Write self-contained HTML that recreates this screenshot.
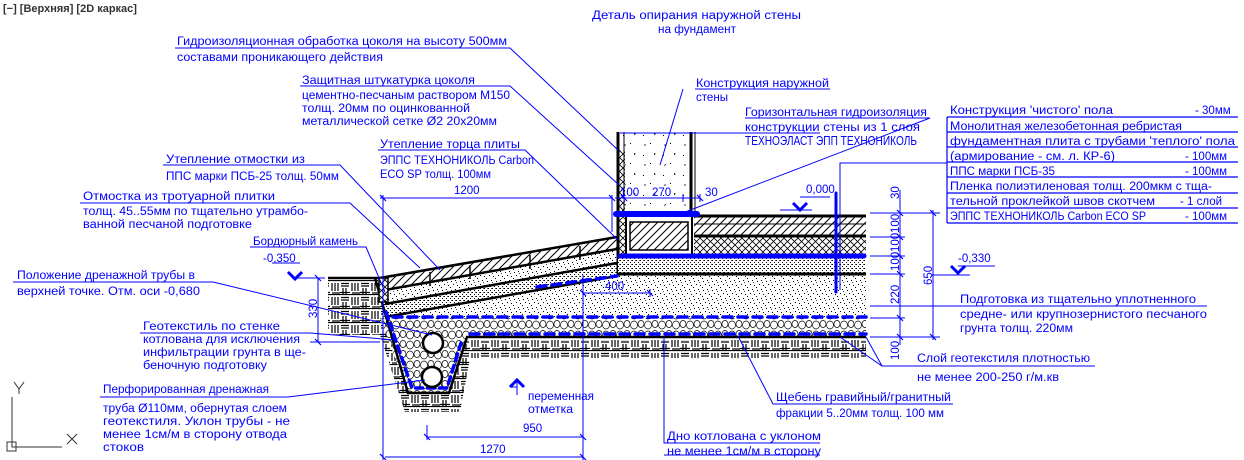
<!DOCTYPE html>
<html><head><meta charset="utf-8"><style>
html,body{margin:0;padding:0;background:#fff;}
svg{display:block;}
text{font-family:"Liberation Sans",sans-serif;font-size:11.5px;fill:#0000ff;}
</style></head><body>
<svg width="1244" height="460" viewBox="0 0 1244 460" xmlns="http://www.w3.org/2000/svg">
<defs>
<pattern id="sand" width="9" height="9" patternUnits="userSpaceOnUse">
<rect width="9" height="9" fill="#fff"/>
<rect x="1" y="2" width="1" height="1" fill="#000"/><rect x="5" y="1" width="1" height="1" fill="#000"/>
<rect x="3" y="5" width="1" height="1" fill="#000"/><rect x="7" y="6" width="1" height="1" fill="#000"/>
<rect x="0" y="8" width="1" height="1" fill="#000"/><rect x="6" y="3" width="1" height="1" fill="#444"/>
</pattern>
<pattern id="dense" width="4" height="4" patternUnits="userSpaceOnUse">
<rect width="4" height="4" fill="#fff"/><rect x="0" y="0" width="1" height="1" fill="#000"/><rect x="2" y="2" width="1" height="1" fill="#000"/><rect x="3" y="0" width="1" height="1" fill="#555"/>
</pattern>
<pattern id="diag" width="8" height="8" patternUnits="userSpaceOnUse">
<rect width="8" height="8" fill="#fff"/><path d="M0 8 L8 0 M-2 2 L2 -2 M6 10 L10 6" stroke="#000" stroke-width="1"/>
</pattern>
<pattern id="cross" width="7" height="7" patternUnits="userSpaceOnUse">
<rect width="7" height="7" fill="#fff"/><path d="M0 7 L7 0 M0 0 L7 7" stroke="#000" stroke-width="0.8"/>
</pattern>
<pattern id="gravel" width="14" height="10" patternUnits="userSpaceOnUse">
<rect width="14" height="10" fill="#fff"/>
<ellipse cx="4" cy="5" rx="3.5" ry="4" fill="none" stroke="#000" stroke-width="0.7"/>
<ellipse cx="11" cy="4" rx="3" ry="3.5" fill="none" stroke="#000" stroke-width="0.7"/>
</pattern>
<pattern id="soil" width="20" height="14" patternUnits="userSpaceOnUse">
<rect width="20" height="14" fill="#fff"/>
<path d="M0 0.5 H20 M1 3.5 H9 M1 6 H9 M12 3 V11 M15 3 V11 M18 3 V11 M0 12.5 H10 M3 8 V14 M6 8 V14 M12 13 H20" stroke="#000" stroke-width="1.2"/>
</pattern>
<pattern id="concrete" width="20" height="20" patternUnits="userSpaceOnUse">
<rect width="20" height="20" fill="#fff"/><path d="M4 5 l2 -1 l-1 2z M14 13 l2 1 l-2 1z" fill="#000"/><rect x="10" y="3" width="1" height="1" fill="#000"/><rect x="3" y="15" width="1" height="1" fill="#000"/>
</pattern>
</defs>

<text x="3" y="12" style="fill:#333;font-size:11px;font-weight:bold">[−] [Верхняя] [2D каркас]</text>

<polygon points="328,280 378,280 410,395 448,395 466,340 866,340 866,358 470,358 460,412 405,412 380,335 328,335" fill="url(#soil)"/>
<polygon points="383,318 617,275 866,275 866,318" fill="url(#sand)"/>
<polygon points="380,318 866,318 866,337 467,337 448,392 408,392" fill="url(#gravel)"/>
<polygon points="378,277 617,237 617,248 383,290" fill="url(#diag)"/>
<polygon points="383,290 617,248 617,262 383,304" fill="url(#sand)"/>
<polygon points="383,304 617,262 617,274 383,317" fill="url(#dense)"/>
<g stroke="#000" stroke-width="2.5" fill="none">
<path d="M328,278 H380 L617,237"/><path d="M385,290 L617,249"/><path d="M385,304 L617,263"/><path d="M385,317 L617,276"/>
<path d="M375,278 L408,393 H449 L467,337 H866"/>
</g>
<g stroke="#000" stroke-width="1.5"><path d="M430,272 V286 M470,265 V279 M530,255 V269 M580,246 V260"/></g>
<rect x="379" y="278" width="9" height="24" fill="url(#cross)" stroke="#000" stroke-width="1.5"/>

<rect x="622" y="132" width="68" height="82" fill="url(#concrete)"/>
<rect x="617" y="150" width="8" height="120" fill="url(#cross)"/>
<rect x="630" y="222" width="58" height="28" fill="url(#diag)" stroke="#000" stroke-width="1.5"/>
<g stroke="#000" fill="none">
<path d="M618,132 V276" stroke-width="3"/><path d="M624,132 V214" stroke-width="1"/>
<path d="M691,132 V214" stroke-width="3"/><path d="M695,132 V214" stroke-width="1"/>
<path d="M626,214 V256" stroke-width="2"/><path d="M692,214 V256" stroke-width="2"/>
</g>
<rect x="694" y="216" width="172" height="20" fill="url(#diag)"/>
<rect x="694" y="237" width="172" height="19" fill="url(#cross)"/>
<rect x="618" y="256" width="248" height="18" fill="url(#dense)"/>
<g stroke="#000" fill="none">
<path d="M694,216 H866" stroke-width="3"/><path d="M694,224 H866" stroke-width="1"/>
<path d="M694,236 H866" stroke-width="3"/><path d="M618,274 H866" stroke-width="3"/>
</g>
<g stroke="#0000ff" fill="none" stroke-linecap="round">
<path d="M616,214 H697" stroke-width="6"/>
<path d="M620,256 H866" stroke-width="5" stroke-dasharray="4,2"/>
<path d="M386,312 L412,388 H447 L461,343" stroke-width="3.5" stroke-dasharray="7,5"/>
<path d="M393,317 H866" stroke-width="3.5" stroke-dasharray="9,6"/>
<path d="M470,334 H866" stroke-width="3.5" stroke-dasharray="9,6"/>
<path d="M537,287 L617,276" stroke-width="3.5" stroke-dasharray="9,6"/>
<path d="M836,193 V292" stroke-width="3"/>
</g>
<circle cx="433" cy="343" r="10" fill="#fff" stroke="#000" stroke-width="2.5"/>
<circle cx="432" cy="377" r="10" fill="#fff" stroke="#000" stroke-width="2.5"/>

<g stroke="#0000ff" stroke-width="1" fill="none">
<path d="M383,195 V460 M380,198 H612 M612,195 V232 M615,198 H700 M624,194 V202 M700,194 V202 M683,194 V202"/>
<path d="M583,275 V460 M583,293 H650 M650,289 V297"/>
<path d="M427,437 H583 M427,425 V440 M385,457 H583"/>
<path d="M318,278 V342 M295,278 H325 M310,342 H380"/>
<path d="M900,190 V345 M870,213 H905 M870,237 H905 M870,256 H905 M870,274 H905 M870,318 H905 M870,337 H905"/>
<path d="M933,210 V340 M905,213 H940 M905,337 H940"/>
<path d="M932,275 H970 M958,266 H995"/>
<path d="M780,210 H812 M800,197 H830"/>
</g>
<g stroke="#0000ff" stroke-width="1.2">
<path d="M380,195 l6,6 M609,195 l6,6 M621,195 l6,6 M697,195 l6,6 M580,290 l6,6 M647,290 l6,6 M424,434 l6,6 M580,434 l6,6 M380,454 l6,6 M580,454 l6,6 M315,275 l6,6 M315,339 l6,6 M897,210 l6,6 M897,234 l6,6 M897,253 l6,6 M897,271 l6,6 M897,315 l6,6 M897,334 l6,6 M930,210 l6,6 M930,334 l6,6"/>
</g>
<g fill="none" stroke="#0000ff" stroke-width="3">
<path d="M288,272 l7,7 l7,-7"/><path d="M793,203 l7,7 l7,-7"/><path d="M951,266 l7,7 l7,-7"/><path d="M510,387 l7,-7 l7,7"/>
</g>
<path d="M517,380 V395 M272,263 H300 M510,387 H517" stroke="#0000ff"/>

<text x="454" y="194">1200</text>
<text x="620" y="196">100</text><text x="652" y="196">270</text><text x="705" y="196">30</text>
<text x="605" y="290">400</text>
<text x="523" y="432">950</text>
<text x="480" y="453">1270</text>
<text x="806" y="193">0,000</text>
<text x="958" y="262">-0,330</text>
<text x="263" y="262">-0,350</text>
<g>
<text transform="translate(317,318) rotate(-90)">330</text>
<text transform="translate(899,199) rotate(-90)">30</text>
<text transform="translate(899,233) rotate(-90)">100</text>
<text transform="translate(899,252) rotate(-90)">100</text>
<text transform="translate(899,271) rotate(-90)">100</text>
<text transform="translate(899,304) rotate(-90)">220</text>
<text transform="translate(899,360) rotate(-90)">100</text>
<text transform="translate(932,285) rotate(-90)">650</text>
</g>

<g stroke="#0000ff" stroke-width="1" fill="none">
<path d="M175,48 H510 L618,150"/>
<path d="M300,86 H510 L619,185"/>
<path d="M378,150 H525 L618,240"/>
<path d="M163,165 H340 L440,270"/>
<path d="M80,203 H350 L420,268"/>
<path d="M250,247 H366 L385,292"/>
<path d="M13,282 H213 L432,335"/>
<path d="M140,333 H310 L395,340"/>
<path d="M100,397 H288 L425,380"/>
<path d="M664,337 V443 H820 M664,455 H820"/>
<path d="M738,336 L773,404 H953"/>
<path d="M840,337 L882,366 H1095 M866,337 L882,366"/>
<path d="M870,306 H1207"/>
<path d="M695,89 H830 M683,89 L660,165"/>
<path d="M745,118 H930 L680,214"/>
<path d="M840,290 V163 H947"/>
<path d="M620,133 H820"/>
</g>
<g stroke="#0000ff" stroke-width="1.2" fill="none">
<path d="M947,117 V223 M947,117 H1238 M947,132 H1238 M947,147 H1238 M947,162 H1238 M947,177 H1238 M947,193 H1238 M947,208 H1238 M947,223 H1238"/>
</g>
<text x="950" y="114" textLength="163" lengthAdjust="spacingAndGlyphs">Конструкция 'чистого' пола</text><text x="1195" y="114">- 30мм</text>
<text x="950" y="130" textLength="232" lengthAdjust="spacingAndGlyphs">Монолитная железобетонная ребристая</text>
<text x="950" y="145" textLength="285" lengthAdjust="spacingAndGlyphs">фундаментная плита с трубами 'теплого' пола</text>
<text x="950" y="160" textLength="165" lengthAdjust="spacingAndGlyphs">(армирование - см. л. КР-6)</text><text x="1185" y="160">- 100мм</text>
<text x="950" y="175" textLength="105" lengthAdjust="spacingAndGlyphs">ППС марки ПСБ-35</text><text x="1185" y="175">- 100мм</text>
<text x="950" y="190" textLength="262" lengthAdjust="spacingAndGlyphs">Пленка полиэтиленовая толщ. 200мкм с тща-</text>
<text x="950" y="205" textLength="205" lengthAdjust="spacingAndGlyphs">тельной проклейкой швов скотчем</text><text x="1180" y="205">- 1 слой</text>
<text x="950" y="220" textLength="196" lengthAdjust="spacingAndGlyphs">ЭППС ТЕХНОНИКОЛЬ Carbon ECO SP</text><text x="1185" y="220">- 100мм</text>

<text x="592" y="19" textLength="209" lengthAdjust="spacingAndGlyphs">Деталь опирания наружной стены</text>
<text x="658" y="33" textLength="78" lengthAdjust="spacingAndGlyphs">на фундамент</text>
<text x="177" y="45" textLength="330" lengthAdjust="spacingAndGlyphs">Гидроизоляционная обработка цоколя на высоту 500мм</text>
<text x="177" y="61" textLength="206" lengthAdjust="spacingAndGlyphs">составами проникающего действия</text>
<text x="302" y="84" textLength="173" lengthAdjust="spacingAndGlyphs">Защитная штукатурка цоколя</text>
<text x="302" y="99" textLength="208" lengthAdjust="spacingAndGlyphs">цементно-песчаным раствором М150</text>
<text x="302" y="112" textLength="168" lengthAdjust="spacingAndGlyphs">толщ. 20мм по оцинкованной</text>
<text x="302" y="125" textLength="195" lengthAdjust="spacingAndGlyphs">металлической сетке Ø2 20х20мм</text>
<text x="380" y="148" textLength="140" lengthAdjust="spacingAndGlyphs">Утепление торца плиты</text>
<text x="380" y="164" textLength="154" lengthAdjust="spacingAndGlyphs">ЭППС ТЕХНОНИКОЛЬ Carbon</text>
<text x="380" y="178" textLength="111" lengthAdjust="spacingAndGlyphs">ECO SP толщ. 100мм</text>
<text x="166" y="163" textLength="139" lengthAdjust="spacingAndGlyphs">Утепление отмостки из</text>
<text x="166" y="180" textLength="173" lengthAdjust="spacingAndGlyphs">ППС марки ПСБ-25 толщ. 50мм</text>
<text x="83" y="200" textLength="192" lengthAdjust="spacingAndGlyphs">Отмостка из тротуарной плитки</text>
<text x="83" y="215" textLength="225" lengthAdjust="spacingAndGlyphs">толщ. 45..55мм по тщательно утрамбо-</text>
<text x="83" y="228" textLength="169" lengthAdjust="spacingAndGlyphs">ванной песчаной подготовке</text>
<text x="253" y="245" textLength="105" lengthAdjust="spacingAndGlyphs">Бордюрный камень</text>
<text x="17" y="279" textLength="178" lengthAdjust="spacingAndGlyphs">Положение дренажной трубы в</text>
<text x="17" y="295" textLength="183" lengthAdjust="spacingAndGlyphs">верхней точке. Отм. оси -0,680</text>
<text x="143" y="330" textLength="137" lengthAdjust="spacingAndGlyphs">Геотекстиль по стенке</text>
<text x="143" y="343" textLength="157" lengthAdjust="spacingAndGlyphs">котлована для исключения</text>
<text x="143" y="356" textLength="163" lengthAdjust="spacingAndGlyphs">инфильтрации грунта в ще-</text>
<text x="143" y="369" textLength="124" lengthAdjust="spacingAndGlyphs">беночную подготовку</text>
<text x="103" y="393" textLength="166" lengthAdjust="spacingAndGlyphs">Перфорированная дренажная</text>
<text x="103" y="412" textLength="184" lengthAdjust="spacingAndGlyphs">труба Ø110мм, обернутая слоем</text>
<text x="103" y="425" textLength="187" lengthAdjust="spacingAndGlyphs">геотекстиля. Уклон трубы - не</text>
<text x="103" y="438" textLength="184" lengthAdjust="spacingAndGlyphs">менее 1см/м в сторону отвода</text>
<text x="103" y="451" textLength="41" lengthAdjust="spacingAndGlyphs">стоков</text>
<text x="528" y="400" textLength="66" lengthAdjust="spacingAndGlyphs">переменная</text>
<text x="528" y="413" textLength="45" lengthAdjust="spacingAndGlyphs">отметка</text>
<text x="667" y="440" textLength="154" lengthAdjust="spacingAndGlyphs">Дно котлована с уклоном</text>
<text x="667" y="455" textLength="154" lengthAdjust="spacingAndGlyphs">не менее 1см/м в сторону</text>
<text x="776" y="401" textLength="175" lengthAdjust="spacingAndGlyphs">Щебень гравийный/гранитный</text>
<text x="776" y="417" textLength="168" lengthAdjust="spacingAndGlyphs">фракции 5..20мм толщ. 100 мм</text>
<text x="917" y="362" textLength="173" lengthAdjust="spacingAndGlyphs">Слой геотекстиля плотностью</text>
<text x="917" y="381" textLength="142" lengthAdjust="spacingAndGlyphs">не менее 200-250 г/м.кв</text>
<text x="960" y="303" textLength="236" lengthAdjust="spacingAndGlyphs">Подготовка из тщательно уплотненного</text>
<text x="960" y="318" textLength="247" lengthAdjust="spacingAndGlyphs">средне- или крупнозернистого песчаного</text>
<text x="960" y="332" textLength="113" lengthAdjust="spacingAndGlyphs">грунта толщ. 220мм</text>
<text x="696" y="87" textLength="133" lengthAdjust="spacingAndGlyphs">Конструкция наружной</text>
<text x="696" y="101" textLength="32" lengthAdjust="spacingAndGlyphs">стены</text>
<text x="745" y="116" textLength="182" lengthAdjust="spacingAndGlyphs">Горизонтальная гидроизоляция</text>
<text x="745" y="131" textLength="175" lengthAdjust="spacingAndGlyphs">конструкции стены из 1 слоя</text>
<text x="745" y="145" textLength="172" lengthAdjust="spacingAndGlyphs" style="font-size:13px">ТЕХНОЭЛАСТ ЭПП ТЕХНОНИКОЛЬ</text>

<g stroke="#333" stroke-width="1" fill="none">
<path d="M12,397 V447 H62"/><rect x="7" y="442" width="9" height="9"/>
<path d="M14,382 l5,7 l5,-7 M19,389 V394 M67,434 l10,10 M77,434 l-10,10"/>
</g>
</svg>
</body></html>
